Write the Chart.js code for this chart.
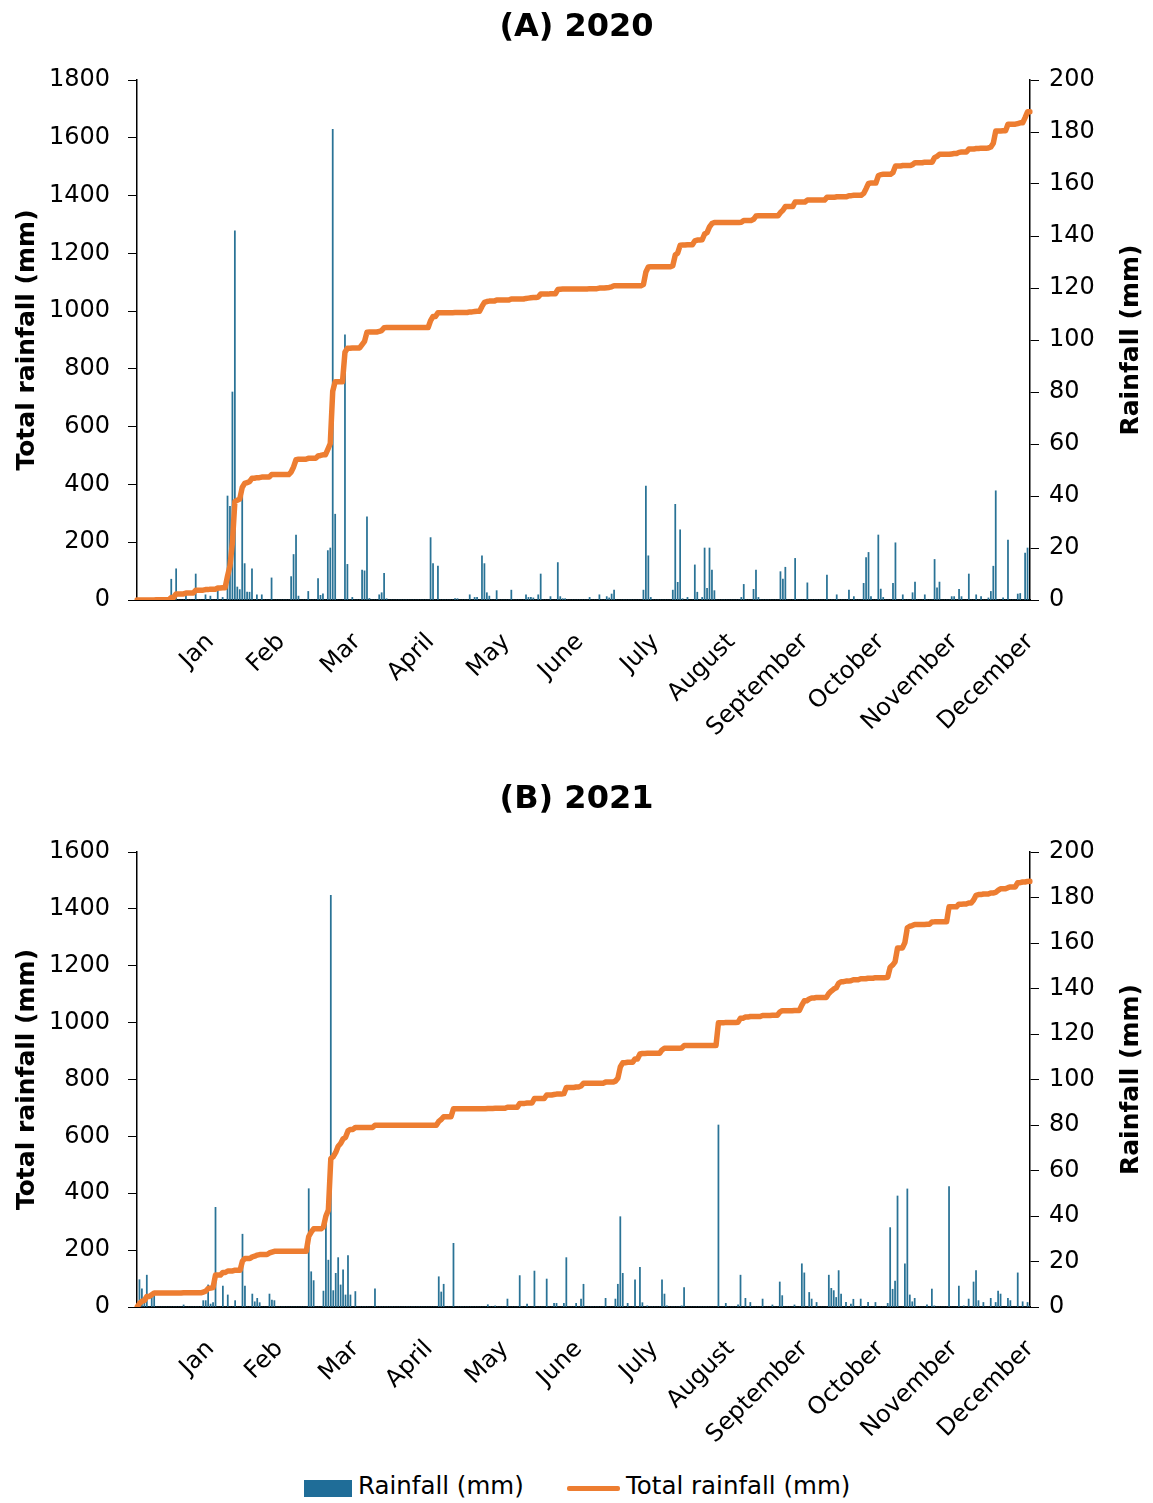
<!DOCTYPE html>
<html>
<head>
<meta charset="utf-8">
<script src="https://cdn.jsdelivr.net/npm/chart.js@4.4.0/dist/chart.umd.min.js"></script>
<style>
  body { margin: 0; background: #fff; width: 1153px; height: 1503px; position: relative; overflow: hidden; font-family: "DejaVu Sans", sans-serif; }
  canvas { position: absolute; left: 0; }
  #chartA { top: 0; }
  #chartB { top: 772px; }
  .sw { position: absolute; }
  .lg { position: absolute; font-size: 24.5px; color: #000; white-space: nowrap; }
</style>
</head>
<body>
<canvas id="chartA" width="1153" height="772"></canvas>
<canvas id="chartB" width="1153" height="698"></canvas>
<div class="sw" style="left:304px;top:1480px;width:48px;height:17px;background:#1f6d98;"></div>
<div class="lg" style="left:358px;top:1471px;">Rainfall (mm)</div>
<div class="sw" style="left:567px;top:1486px;width:53px;height:5px;background:#ed7d31;border-radius:2px;"></div>
<div class="lg" style="left:626px;top:1471px;">Total rainfall (mm)</div>
<script>
// month labels, shown at the last day of each month
var monthNames = ['Jan', 'Feb', 'Mar', 'April', 'May', 'June', 'July', 'August', 'September', 'October', 'November', 'December'];
var monthEnd2020 = [30, 59, 90, 120, 151, 181, 212, 243, 273, 304, 334, 365];
var monthEnd2021 = [30, 58, 89, 119, 150, 180, 211, 242, 272, 303, 333, 364];

// 2020 rain days (day of year, 0 = 1 Jan) and daily rainfall (mm)
var rainDays2020 = [8, 14, 16, 20, 24, 28, 30, 33, 35,
    37, 38, 39, 40, 41, 42, 43, 44, 45, 46, 47, 49, 51, 55,
    63, 64, 65, 66, 70, 74, 75, 76, 78, 79, 80, 81, 85, 86, 88,
    92, 93, 94, 95, 99, 100, 101, 102, 120, 121, 123, 130, 131, 136, 138, 139,
    141, 142, 143, 144, 147, 153, 159, 160, 161, 162, 164, 165, 169, 172, 173, 174, 175,
    185, 189, 192, 193, 194, 195, 207, 208, 209, 210, 219, 220, 221, 222, 223, 225,
    228, 229, 231, 232, 233, 234, 235, 236, 247, 248, 252, 253, 254, 263, 264, 265, 269, 274,
    282, 286, 291, 293, 297, 298, 299, 300, 303, 304, 305, 309, 310, 313, 317, 318, 322,
    326, 327, 328, 333, 334, 336, 337, 340, 343, 345, 348, 349, 350, 351, 354, 356,
    360, 361, 363, 364];
var rainMm2020 = [1, 8, 12, 3, 10, 2, 1.5, 4, 1,
    40, 36, 80, 142, 5, 4, 40, 14, 3, 3, 12, 2, 2, 8.5,
    9, 17.5, 25, 1.5, 3.3, 8.2, 1.8, 2.4, 19, 20, 181, 33, 102, 13.7, 1,
    11.5, 11.2, 32, 0.6, 2, 2.8, 10.3, 0.5, 24, 14, 13, 0.5, 0.5, 2, 1, 1,
    17, 14, 2.8, 1.5, 3.6, 3.8, 2, 1, 1, 0.8, 2, 10, 1.3, 14.4, 1.3, 0.5, 0.5,
    1, 2, 1.3, 0.8, 2.3, 3.8, 3.8, 43.8, 17, 1, 3.8, 36.8, 6.8, 27, 0.5, 1,
    13.5, 3, 1, 20, 4.5, 20, 11.5, 3.6, 1, 6, 4.1, 11.5, 1, 10.9, 8, 12.6, 16, 6.6,
    9.6, 2, 3.8, 1.3, 6.4, 16.3, 18.3, 1.3, 25, 4.2, 1, 6.4, 22, 2, 2.8, 6.9, 2,
    15.6, 4.7, 6.9, 1.3, 1.3, 4.1, 1.3, 10, 2, 1.3, 0.8, 3.3, 13, 42, 0.8, 23,
    2.3, 2.5, 18, 20];

// 2021 rain days and daily rainfall (mm)
var rainDays2021 = [1, 2, 3, 4, 6, 7, 19, 27, 28, 29, 30, 31, 32, 35, 37, 40, 43, 44,
    47, 48, 49, 50, 54, 55, 56, 70, 71, 72, 76, 77, 78, 79, 80, 81, 82, 83, 84, 85, 86, 87, 89, 97,
    123, 124, 125, 129, 143, 146, 151, 156, 159, 162, 167, 170, 171, 174, 175, 179, 181, 182,
    191, 195, 196, 197, 198, 200, 203, 205, 206, 208, 214, 215, 216, 222, 223, 237, 240,
    245, 246, 248, 250, 255, 259, 262, 263, 268, 271, 272, 274, 275, 277,
    282, 283, 284, 285, 286, 287, 289, 291, 292, 295, 298, 301, 306, 307, 308, 309, 310,
    313, 314, 315, 316, 317, 322, 324, 325, 331, 335, 337, 339, 341, 342, 343, 345,
    348, 350, 351, 352, 355, 356, 359, 361, 363, 364];
var rainMm2021 = [12, 8, 3, 14, 6, 6, 0.9, 2.8, 2.8, 9.7, 1.3, 1.9, 43.8, 9.2, 5.3, 2.8, 32, 9.2,
    5.7, 2.3, 3.8, 1.9, 5.7, 3, 2.8, 52, 15.5, 11.6, 7, 38, 20.6, 181, 7.2, 14.8, 21.7, 9.7, 16.3, 5.3, 22.6, 5.3, 6.8, 8,
    13.3, 6.6, 10, 28, 1, 0.5, 3.5, 13.8, 1.3, 15.8, 12.3, 1.6, 1.6, 1.6, 21.7, 1.6, 3.5, 10,
    3.8, 3.5, 10, 39.7, 14.8, 1.6, 11.9, 17.4, 1.9, 0.5, 11.9, 5.7, 0.5, 0.5, 8.5, 80, 1.6,
    0.9, 14, 3.8, 2, 3.5, 0.9, 11, 5, 0.9, 19, 15, 6.4, 3.5, 2,
    14, 8.2, 7.2, 4.2, 16, 5.7, 2, 1.3, 3.4, 3.5, 2, 2, 1.6, 34.9, 7.8, 11.4, 48.8,
    19, 51.9, 5.3, 2.3, 3.8, 0.9, 7.9, 0.5, 52.9, 9.2, 0.5, 3.5, 11, 16, 2.8, 2,
    3.8, 2, 7, 5.7, 3.8, 2.8, 15, 2.3, 2, 0.5];

var FONT = '"DejaVu Sans", sans-serif';

function dailySeries(nDays, days, mm) {
    var out = [];
    for (var i = 0; i < nDays; i++) out.push(0);
    for (var j = 0; j < days.length; j++) out[days[j]] = mm[j];
    return out;
}

function runningTotal(daily) {
    var out = [];
    var sum = 0;
    for (var i = 0; i < daily.length; i++) {
        sum += daily[i];
        out.push(Math.round(sum * 10) / 10);
    }
    return out;
}

// rotated axis titles, both reading bottom to top
var axisTitles = {
    id: 'axisTitles',
    afterDraw: function (chart, args, opts) {
        var ctx = chart.ctx;
        var area = chart.chartArea;
        var cy = (area.top + area.bottom) / 2;
        [[opts.left, opts.leftX], [opts.right, opts.rightX]].forEach(function (t) {
            ctx.save();
            ctx.font = 'bold 25px ' + FONT;
            ctx.fillStyle = '#000';
            ctx.textAlign = 'center';
            ctx.textBaseline = 'middle';
            ctx.translate(t[1], cy);
            ctx.rotate(-Math.PI / 2);
            ctx.fillText(t[0], 0, 0);
            ctx.restore();
        });
    }
};

function plainNumber(value) {
    return String(value);
}

function makeChart(id, title, nDays, days, mm, leftMax, monthEnd) {
    var daily = dailySeries(nDays, days, mm);
    var total = runningTotal(daily);
    var labels = [];
    for (var i = 1; i <= nDays; i++) labels.push(i);
    var canvas = document.getElementById(id);

    return new Chart(canvas, {
        type: 'bar',
        data: {
            labels: labels,
            datasets: [{
                type: 'line',
                label: 'Total rainfall (mm)',
                data: total,
                yAxisID: 'y',
                borderColor: '#ed7d31',
                borderWidth: 5.5,
                pointRadius: 0,
                tension: 0,
                borderJoinStyle: 'round',
                borderCapStyle: 'round',
                order: 0
            }, {
                type: 'bar',
                label: 'Rainfall (mm)',
                data: daily,
                yAxisID: 'y1',
                backgroundColor: '#2a7396',
                barThickness: 1.1,
                order: 1
            }]
        },
        options: {
            responsive: false,
            animation: false,
            layout: { padding: 0 },
            plugins: {
                legend: { display: false },
                tooltip: { enabled: false },
                title: {
                    display: true,
                    text: title,
                    color: '#000',
                    font: { family: FONT, size: 32, weight: 'bold', lineHeight: 1.2 },
                    padding: { top: 8, bottom: 33.6 }
                },
                axisTitles: { left: 'Total rainfall (mm)', right: 'Rainfall (mm)', leftX: 27, rightX: 1131 }
            },
            scales: {
                x: {
                    type: 'category',
                    offset: false,
                    grid: { display: false, offset: false },
                    border: { display: true, color: '#000', width: 2 },
                    ticks: {
                        autoSkip: false,
                        minRotation: 45,
                        maxRotation: 45,
                        padding: 20,
                        color: '#000',
                        font: { family: FONT, size: 24 },
                        callback: function (value, index) {
                            var m = monthEnd.indexOf(index);
                            return m >= 0 ? monthNames[m] : '';
                        }
                    },
                    afterFit: function (scale) { scale.height = canvas.height - 80 - (leftMax === 1800 ? 520 : 455); }
                },
                y: {
                    position: 'left',
                    min: 0,
                    max: leftMax,
                    grid: { drawOnChartArea: false, drawTicks: true, tickLength: 9, color: '#000' },
                    border: { display: true, color: '#000', width: 1.5 },
                    ticks: { stepSize: 200, padding: 18, color: '#000', font: { family: FONT, size: 24 }, callback: plainNumber },
                    afterFit: function (scale) { scale.width = 137; }
                },
                y1: {
                    position: 'right',
                    min: 0,
                    max: 200,
                    grid: { drawOnChartArea: false, drawTicks: true, tickLength: 9, color: '#000' },
                    border: { display: true, color: '#000', width: 1.5 },
                    ticks: { stepSize: 20, padding: 10, color: '#000', font: { family: FONT, size: 24 }, callback: plainNumber },
                    afterFit: function (scale) { scale.width = 123; }
                }
            }
        },
        plugins: [axisTitles]
    });
}

makeChart('chartA', '(A) 2020', 366, rainDays2020, rainMm2020, 1800, monthEnd2020);
makeChart('chartB', '(B) 2021', 365, rainDays2021, rainMm2021, 1600, monthEnd2021);
</script>
</body>
</html>
